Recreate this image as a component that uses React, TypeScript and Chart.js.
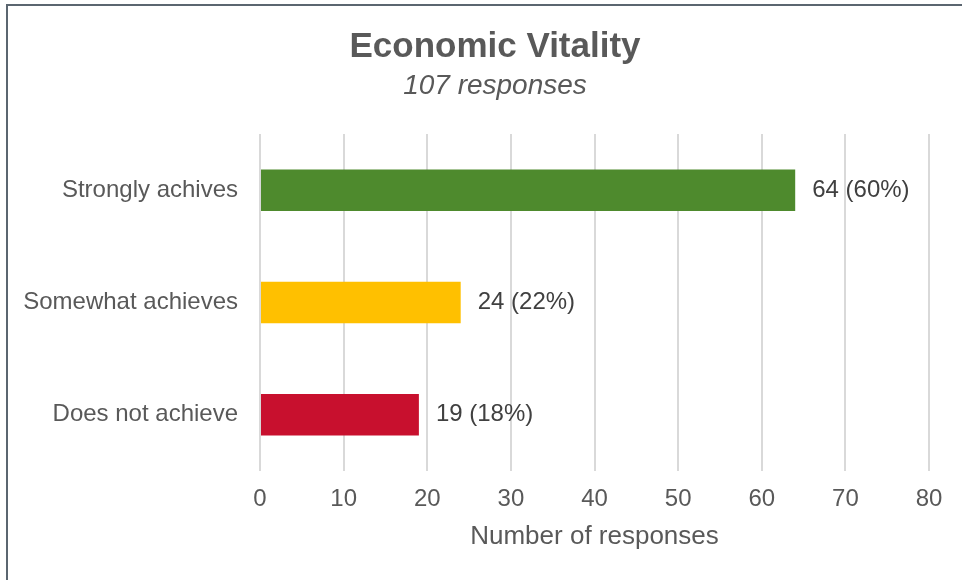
import React, { useEffect, useRef } from "react";
import { Chart, registerables } from "chart.js";

Chart.register(...registerables);

const categories = ["Strongly achives", "Somewhat achieves", "Does not achieve"];
const counts = [64, 24, 19];
const percents = [60, 22, 18];
const barColors = ["#4e8a2d", "#ffc000", "#c8102e"];
const xTicks = [0, 10, 20, 30, 40, 50, 60, 70, 80];
const titleText = "Economic Vitality";
const subtitleText = "107 responses";
const xAxisTitle = "Number of responses";

const FONT = "'Liberation Sans', Arial, sans-serif";
const W = 962;
const H = 580;

const valueLabels = {
  id: "valueLabels",
  afterDatasetsDraw(chart: any) {
    const ctx = chart.ctx;
    const meta = chart.getDatasetMeta(0);
    ctx.save();
    ctx.font = `24px ${FONT}`;
    ctx.fillStyle = "#404040";
    ctx.textAlign = "left";
    ctx.textBaseline = "middle";
    meta.data.forEach((bar: any, i: number) => {
      ctx.fillText(`${counts[i]} (${percents[i]}%)`, bar.x + 17, bar.y);
    });
    ctx.restore();
  },
};

const frameAndTitles = {
  id: "frameAndTitles",
  beforeDraw(chart: any) {
    const ctx = chart.ctx;
    ctx.save();
    ctx.fillStyle = "#ffffff";
    ctx.fillRect(0, 0, chart.width, chart.height);
    ctx.fillStyle = "#5b6670";
    ctx.fillRect(6, 4, chart.width - 6, 2);
    ctx.fillRect(6, 4, 2, chart.height - 4);
    ctx.restore();
  },
  afterDraw(chart: any) {
    const ctx = chart.ctx;
    ctx.save();
    ctx.fillStyle = "#595959";
    ctx.textAlign = "center";
    ctx.textBaseline = "middle";
    ctx.font = `bold 35px ${FONT}`;
    ctx.fillText(titleText, 495, 47);
    ctx.font = `italic 28px ${FONT}`;
    ctx.fillText(subtitleText, 495, 86);
    ctx.restore();
  },
};

export default function App() {
  const ref = useRef<HTMLCanvasElement>(null);
  useEffect(() => {
    if (!ref.current) return;
    const chart = new Chart(ref.current, {
      type: "bar",
      data: {
        labels: categories,
        datasets: [
          {
            data: counts,
            backgroundColor: barColors,
            borderWidth: 0,
            barPercentage: 0.37,
            categoryPercentage: 1,
          },
        ],
      },
      options: {
        indexAxis: "y",
        animation: false,
        responsive: false,
        devicePixelRatio: 1,
        layout: { padding: { left: 10, right: 33, top: 134, bottom: 28 } },
        plugins: {
          legend: { display: false },
          tooltip: { enabled: false },
          title: { display: false },
          subtitle: { display: false },
        },
        scales: {
          x: {
            min: 0,
            max: 80,
            afterBuildTicks: (scale: any) => {
              scale.ticks = xTicks.map((v) => ({ value: v }));
            },
            grid: { color: "#d9d9d9", lineWidth: 2, drawTicks: false },
            border: { display: false },
            ticks: {
              color: "#595959",
              font: { family: FONT, size: 24 },
              padding: 14,
            },
            title: {
              display: true,
              text: xAxisTitle,
              color: "#595959",
              font: { family: FONT, size: 26 },
              padding: { top: -7, bottom: 0 },
            },
          },
          y: {
            grid: { display: false, drawTicks: false },
            border: { display: false },
            afterFit: (scale: any) => {
              scale.width = 250;
            },
            ticks: {
              color: "#595959",
              font: { family: FONT, size: 24 },
              padding: 22,
            },
          },
        },
      },
      plugins: [frameAndTitles, valueLabels],
    });
    return () => chart.destroy();
  }, []);

  return (
    <div
      style={{
        position: "fixed",
        left: 0,
        top: 0,
        width: W,
        height: H,
        overflow: "hidden",
        background: "#fff",
      }}
    >
      <canvas ref={ref} width={W} height={H} style={{ display: "block" }} />
    </div>
  );
}
